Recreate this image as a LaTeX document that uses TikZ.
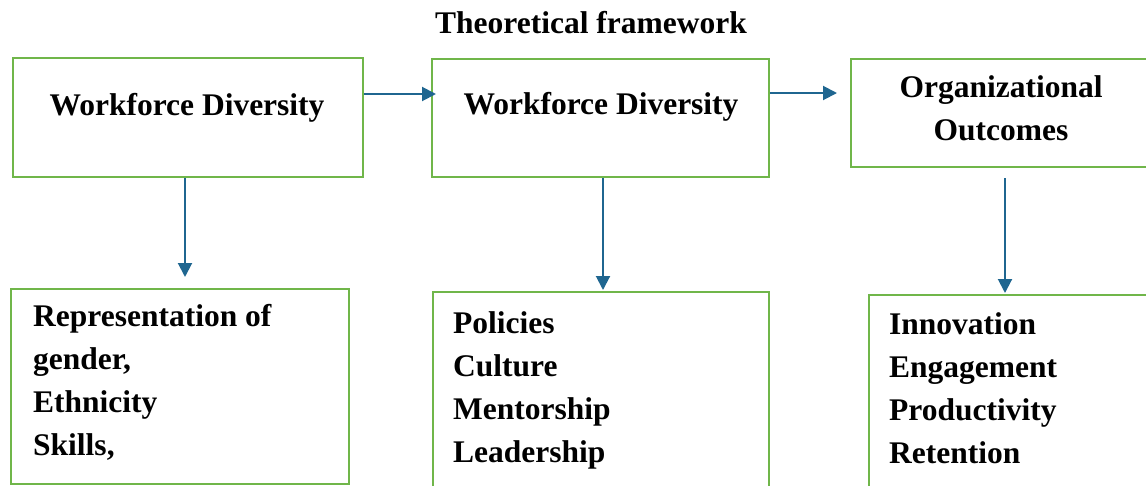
\documentclass[tikz,border=0pt]{standalone}
\usepackage{fontspec}
\setmainfont{Liberation Serif}
\usetikzlibrary{arrows.meta,calc}
\definecolor{boxgreen}{HTML}{70B64A}
\definecolor{arrowblue}{HTML}{1F6690}
\begin{document}
\begin{tikzpicture}[x=1pt,y=-1pt,
  frame/.style={draw=boxgreen, line width=2pt, fill=white, inner sep=0pt, anchor=north west},
  label/.style={font=\bfseries\fontsize{31.5}{43}\selectfont, inner sep=0pt},
  link/.style={draw=arrowblue, line width=2pt, -{Triangle[length=14pt,width=14pt]}}]
\useasboundingbox (0,0) rectangle (1146,485);
\clip (0,0) rectangle (1146,485);

% title
\node[label, anchor=base] (title) at (591,33) {Theoretical framework};

% upper row of boxes
\node[frame, minimum width=350pt, minimum height=119pt] (a) at (12,57) {};
\node[frame, minimum width=337pt, minimum height=118pt] (b) at (431,58) {};
\node[frame, minimum width=300pt, minimum height=108pt] (c) at (850,58) {};

% lower row of boxes
\node[frame, minimum width=338pt, minimum height=195pt] (d) at (10,288) {};
\node[frame, minimum width=336pt, minimum height=200pt] (e) at (432,291) {};
\node[frame, minimum width=290pt, minimum height=200pt] (f) at (868,294) {};

% box texts (base anchor of a multi-line node sits on its last line)
\node[label, anchor=base] (at) at (187,115) {Workforce Diversity};
\node[label, anchor=base] (bt) at (601,114) {Workforce Diversity};
\node[label, align=center, anchor=base] (ct) at (1001,140) {Organizational\\Outcomes};
\node[label, align=left, anchor=base west] (dt) at (33,455)
  {Representation of\\gender,\\Ethnicity\\Skills,};
\node[label, align=left, anchor=base west] (et) at (453,462)
  {Policies\\Culture\\Mentorship\\Leadership};
\node[label, align=left, anchor=base west] (ft) at (889,463)
  {Innovation\\Engagement\\Productivity\\Retention};

% connectors
\draw[link] ($(a.north east)+(0,37)$) -- ($(b.north west)+(5,36)$);
\draw[link] ($(b.north east)+(0,35)$) -- ($(c.north west)+(-13,35)$);
\draw[link] ($(a.south west)+(173,0)$) -- ($(d.north west)+(175,-11)$);
\draw[link] ($(b.south west)+(172,0)$) -- ($(e.north west)+(171,-1)$);
\draw[link] ($(c.south west)+(155,10)$) -- ($(f.north west)+(137,-1)$);
\end{tikzpicture}
\end{document}
